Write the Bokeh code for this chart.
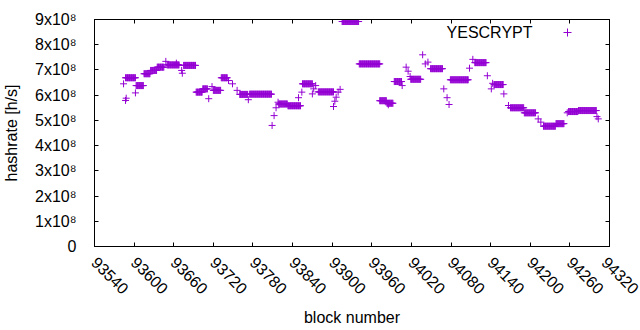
import numpy as np
from bokeh.plotting import figure
from bokeh.models import (LinearAxis, SingleIntervalTicker, CustomJSTickFormatter,
                          Label, Legend, LegendItem, Range1d, ColumnDataSource)
from bokeh.embed import file_html
from bokeh.resources import INLINE

# runs of constant hashrate (block start, block end, hashrate in 1e8 h/s)
run_start = [93587, 93603, 93615, 93625, 93635, 93650, 93675, 93694, 93704, 93720,
             93732, 93760, 93775, 93819, 93833, 93855, 93879, 93915, 93941, 93972,
             93983, 93994, 94019, 94049, 94079, 94116, 94145, 94170, 94191, 94220,
             94239, 94258, 94273]
run_end = [93602, 93614, 93624, 93634, 93645, 93668, 93693, 93703, 93711, 93731,
           93741, 93772, 93808, 93832, 93852, 93870, 93902, 93940, 93972, 93982,
           93992, 94005, 94034, 94067, 94106, 94133, 94159, 94190, 94208, 94238,
           94251, 94272, 94300]
run_rate = [6.69, 6.38, 6.85, 6.98, 7.11, 7.20, 7.18, 6.12, 6.25, 6.19,
            6.69, 6.03, 6.04, 5.65, 5.58, 6.45, 6.13, 8.92, 7.24, 5.78,
            5.68, 6.54, 6.63, 7.05, 6.61, 7.29, 6.42, 5.50, 5.30, 4.77,
            4.87, 5.35, 5.39]

# isolated blocks
pt_block = [93584, 93587, 93588, 93602, 93648, 93664, 93672, 93673, 93713, 93718,
            93743, 93749, 93756, 93773, 93809, 93812, 93815, 93818, 93849, 93854,
            93870, 93872, 93875, 93902, 93904, 93906, 93909, 93912, 93985, 94006,
            94012, 94015, 94018, 94037, 94041, 94045, 94069, 94074, 94077, 94108,
            94113, 94135, 94141, 94143, 94160, 94167, 94212, 94216, 94256, 94301,
            94303]
pt_rate = [6.45, 5.79, 5.88, 6.09, 7.34, 7.27, 6.98, 6.87, 5.86, 6.34,
           6.58, 6.45, 6.19, 5.82, 4.80, 5.19, 5.50, 5.72, 5.90, 6.12,
           6.05, 6.25, 6.38, 5.55, 5.76, 5.92, 6.12, 6.23, 5.62, 6.38,
           7.11, 6.95, 6.74, 7.60, 7.24, 7.31, 6.25, 5.90, 5.63, 7.07,
           7.42, 6.77, 6.25, 6.47, 6.05, 5.59, 5.06, 4.93, 5.30, 5.15,
           5.06]

series_name = "YESCRYPT"
x_tick_step = 60
y_tick_step = 1e8

xs, ys = [], []
for s, e, v in zip(run_start, run_end, run_rate):
    blocks = np.arange(s, e + 1)
    xs.extend(blocks.tolist())
    ys.extend([v * 1e8] * len(blocks))
xs.extend(pt_block)
ys.extend([v * 1e8 for v in pt_rate])
src = ColumnDataSource(dict(x=xs, y=ys))

FONT = "Liberation Sans"
COLOR = "#9400D3"

p = figure(width=640, height=330, output_backend="svg", toolbar_location=None,
           x_range=Range1d(93540, 94320), y_range=Range1d(0, 9e8),
           min_border_left=94, min_border_right=31, min_border_top=19,
           min_border_bottom=84)
p.grid.visible = False
p.outline_line_color = "black"
p.background_fill_color = "white"
p.border_fill_color = "white"

r = p.scatter("x", "y", source=src, marker="cross", size=7, line_color=COLOR,
              line_width=1)

xt = SingleIntervalTicker(interval=x_tick_step)
yt = SingleIntervalTicker(interval=y_tick_step)

def style(ax):
    ax.major_tick_in = 4
    ax.major_tick_out = 0
    ax.minor_tick_line_color = None
    ax.axis_line_color = "black"
    ax.major_tick_line_color = "black"
    ax.major_label_text_font = FONT
    ax.major_label_text_font_size = "16px"
    ax.major_label_text_color = "black"
    ax.axis_label_text_font = FONT
    ax.axis_label_text_font_size = "16px"
    ax.axis_label_text_font_style = "normal"
    ax.axis_label_text_color = "black"

xa = p.xaxis[0]
xa.ticker = xt
style(xa)
xa.major_label_orientation = -np.pi / 4
xa.major_label_standoff = 9
xa.axis_label = "block number"
xa.axis_label_standoff = 7

ya = p.yaxis[0]
ya.ticker = yt
style(ya)
ya.major_label_standoff = 14
ya.formatter = CustomJSTickFormatter(
    code="return tick == 0 ? '0' : Math.round(tick/1e8) + 'x10\u2078';")
ya.axis_label = "hashrate [h/s]"
ya.axis_label_standoff = 12

blank = CustomJSTickFormatter(code="return '';")
top = LinearAxis(ticker=xt, formatter=blank)
style(top)
top.major_label_text_color = None
top.major_label_text_font_size = "0px"
top.major_label_standoff = 0
p.add_layout(top, "above")
right = LinearAxis(ticker=yt, formatter=blank)
style(right)
right.major_label_text_color = None
right.major_label_text_font_size = "0px"
right.major_label_standoff = 0
p.add_layout(right, "right")

lab = Label(x=438, y=214, x_units="screen", y_units="screen", text=series_name,
            text_font=FONT, text_font_size="16px", text_color="black",
            text_align="right", text_baseline="middle")
p.add_layout(lab)

leg = Legend(items=[LegendItem(label="", renderers=[r])], location=(463, 204),
             padding=0, margin=0, spacing=0, glyph_width=20, glyph_height=20,
             label_width=0, label_height=20, label_standoff=0,
             background_fill_alpha=0, border_line_alpha=0,
             label_text_font_size="1px")
p.add_layout(leg, "center")

open("out.html", "w").write(file_html(p, INLINE))
